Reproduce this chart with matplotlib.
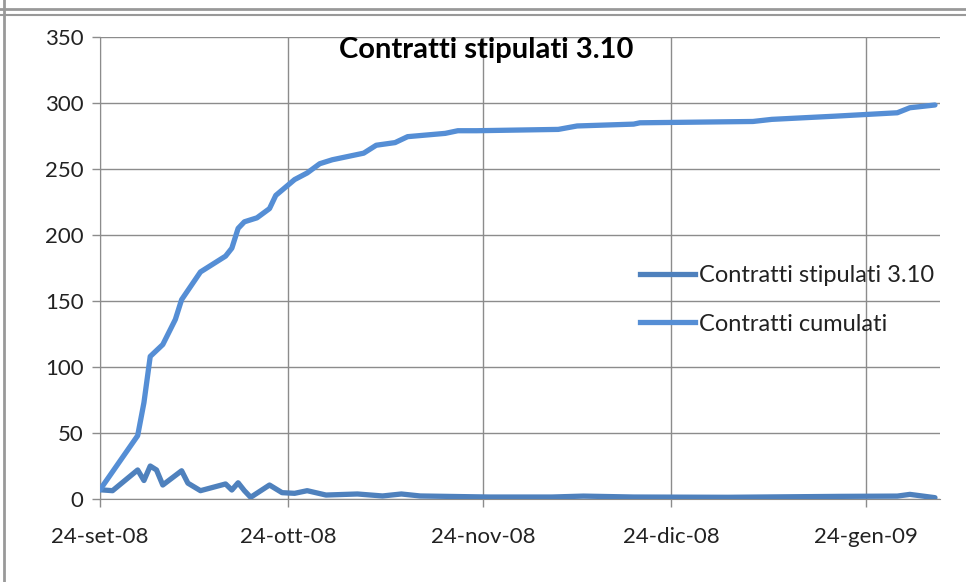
import numpy as np
import pandas as pd
import matplotlib.pyplot as plt
from matplotlib.lines import Line2D

# dati (giorni dal 24-set-08)
start = pd.Timestamp('2008-09-24')

giorni_cum = [0, 6, 7, 8, 10, 12, 13, 16, 20, 21, 22, 23, 25, 27, 28, 31, 33, 35, 37,
              42, 44, 47, 49, 55, 57, 60, 73, 76, 85, 86, 104, 107, 117, 127, 129, 133]
cumulati = [7, 48, 73, 108, 117, 136, 151, 172, 184, 190, 205, 210, 213, 220, 230, 242,
            247, 254, 257, 262, 268, 270, 274.5, 277, 279, 279, 280, 282.6, 284, 285,
            286, 287.6, 290, 292.6, 296.4, 298.5]

giorni_day = [0, 2, 6, 7, 8, 9, 10, 13, 14, 16, 20, 21, 22, 23, 24, 27, 29, 31, 33, 36,
              41, 45, 48, 51, 62, 72, 77, 85, 100, 118, 127, 129, 133]
stipulati = [7, 6.3, 22, 14, 25, 22, 10.6, 21.4, 12, 6.3, 11.4, 6.8, 12.3, 6.3, 1.3,
             10.6, 4.8, 4.3, 6.3, 3, 3.8, 2.3, 3.8, 2.3, 1.5, 1.5, 2.2, 1.5, 1.3, 2,
             2.2, 3.5, 1]

tick_labels = ['24-set-08', '24-ott-08', '24-nov-08', '24-dic-08', '24-gen-09']
tick_dates = pd.to_datetime(['2008-09-24', '2008-10-24', '2008-11-24',
                             '2008-12-24', '2009-01-24'])

date_cum = start + pd.to_timedelta(giorni_cum, unit='D')
date_day = start + pd.to_timedelta(giorni_day, unit='D')

plt.rcParams['font.family'] = ['Lato', 'DejaVu Sans']

fig = plt.figure(figsize=(9.66, 5.82), dpi=100)
ax = fig.add_axes([100 / 966, 1 - 499 / 582, 840 / 966, 462 / 582])

c_day = '#4F81BD'
c_cum = '#558ED5'
ax.plot(date_day, stipulati, color=c_day, lw=3.8, solid_joinstyle='round',
        solid_capstyle='round', zorder=3)
ax.plot(date_cum, cumulati, color=c_cum, lw=3.8, solid_joinstyle='round',
        solid_capstyle='round', zorder=3)

ax.set_ylim(0, 350)
ax.set_yticks(np.arange(0, 351, 50))
ax.set_xlim(start, start + pd.Timedelta(days=133.8))
ax.set_xticks(tick_dates)
ax.set_xticklabels(tick_labels)

ax.grid(True, color='#8c8c8c', lw=1)
ax.set_axisbelow(True)
for s in ['top', 'right']:
    ax.spines[s].set_visible(False)
for s in ['left', 'bottom']:
    ax.spines[s].set_color('#8c8c8c')
ax.tick_params(axis='both', colors='#8c8c8c', length=6, width=1, labelsize=16,
               labelcolor='#222222')
ax.tick_params(axis='x', pad=14)
ax.tick_params(axis='y', pad=6)

fig.text(486 / 966, 1 - 50 / 582, 'Contratti stipulati 3.10', ha='center', va='center',
         fontsize=21, fontweight='bold', color='black')

handles = [Line2D([], [], color=c_day, lw=3.8), Line2D([], [], color=c_cum, lw=3.8)]
ax.legend(handles, ['Contratti stipulati 3.10', 'Contratti cumulati'],
          loc='upper left', bbox_to_anchor=((631 - 100) / 840, (499 - 256) / 462),
          frameon=False, fontsize=17, handlelength=2.3, handletextpad=0.2,
          labelspacing=1.15, borderaxespad=0, labelcolor='#222222')

# cornice esterna
fig.add_artist(Line2D([0, 1], [1 - 9 / 582] * 2, color='#999999', lw=2))
fig.add_artist(Line2D([0, 1], [1 - 15 / 582] * 2, color='#999999', lw=1.5))
fig.add_artist(Line2D([4 / 966] * 2, [0, 1], color='#999999', lw=2))

fig.savefig('out.png', dpi=100)
